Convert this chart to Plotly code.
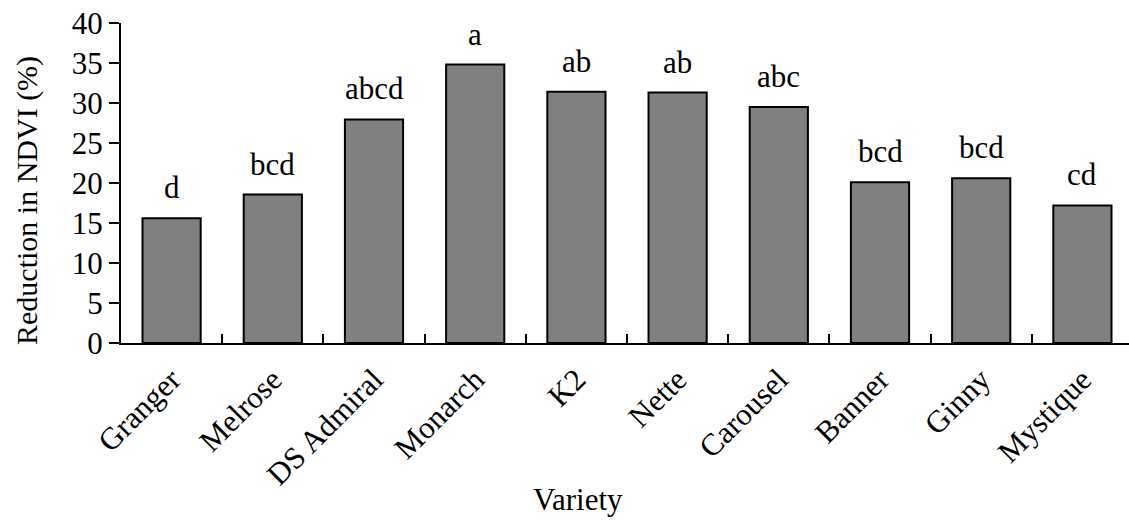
import plotly.graph_objects as go

varieties = ["Granger", "Melrose", "DS Admiral", "Monarch", "K2", "Nette",
             "Carousel", "Banner", "Ginny", "Mystique"]
reduction = [15.6, 18.55, 27.95, 34.8, 31.4, 31.3, 29.5, 20.1, 20.6, 17.2]
letters = ["d", "bcd", "abcd", "a", "ab", "ab", "abc", "bcd", "bcd", "cd"]
y_ticks = [0, 5, 10, 15, 20, 25, 30, 35, 40]

FONT = "Liberation Serif, Times New Roman, serif"
FS = 31

fig = go.Figure()
fig.add_trace(go.Bar(
    x=varieties, y=reduction,
    marker=dict(color="#808080", line=dict(color="black", width=2)),
    width=0.575,
    hoverinfo="skip",
))

for v, val, lab in zip(varieties, reduction, letters):
    fig.add_annotation(x=v, y=val, text=lab, showarrow=False,
                       xref="x", yref="y", yanchor="bottom", yshift=11,
                       font=dict(family=FONT, size=FS, color="black"))

W, H = 1129, 521
L, T, B, R = 121, 23, 178, 0
pw = W - L - R
ph = H - T - B

# axis titles placed as annotations in paper coordinates
fig.add_annotation(text="Reduction in NDVI (%)", textangle=-90, showarrow=False,
                   xref="paper", yref="paper",
                   x=(27 - L) / pw, y=(H - B - 201) / ph,
                   xanchor="center", yanchor="middle",
                   font=dict(family=FONT, size=30, color="black"))
fig.add_annotation(text="Variety", showarrow=False,
                   xref="paper", yref="paper",
                   x=(578 - L) / pw, y=(H - B - 499) / ph,
                   xanchor="center", yanchor="middle",
                   font=dict(family=FONT, size=FS, color="black"))

fig.update_layout(
    width=W, height=H,
    margin=dict(l=L, r=R, t=T, b=B, pad=0),
    paper_bgcolor="white", plot_bgcolor="white",
    font=dict(family=FONT, size=FS, color="black"),
    showlegend=False,
    xaxis=dict(
        range=[-0.5, -0.5 + pw / 101.2],
        showline=True, linecolor="black", linewidth=2,
        ticks="inside", tickson="boundaries", ticklen=9, tickwidth=2,
        tickcolor="black", tickangle=-45, ticklabelstandoff=4,
        tickfont=dict(family=FONT, size=FS, color="black"),
        showgrid=False, zeroline=False, fixedrange=True,
    ),
    yaxis=dict(
        range=[0, 40], tickvals=y_ticks, ticksuffix="\u00a0",
        showline=True, linecolor="black", linewidth=2,
        ticks="outside", ticklen=10, tickwidth=2, tickcolor="black",
        tickfont=dict(family=FONT, size=FS, color="black"),
        showgrid=False, zeroline=False, fixedrange=True,
    ),
)

fig.write_html("out.html")
